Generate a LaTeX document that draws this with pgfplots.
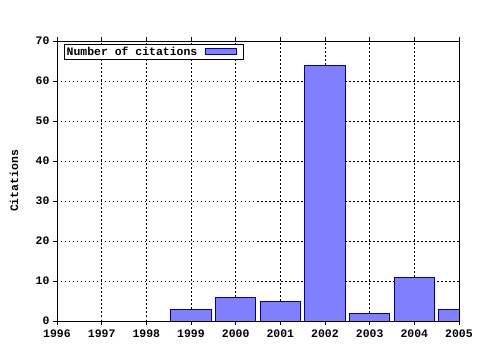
\documentclass[border=0pt]{standalone}
\usepackage{fontspec}
\setmainfont{Liberation Mono}
\usepackage{pgfplots}
\pgfplotsset{compat=1.18}
\definecolor{barfill}{RGB}{128,128,255}
\definecolor{baredge}{RGB}{0,0,150}
\begin{document}
\begin{tikzpicture}[font=\bfseries\fontsize{11.5}{13}\selectfont]
\begin{axis}[
  at={(0,0)}, anchor=south west,
  scale only axis, width=402bp, height=280bp,
  xmin=1996, xmax=2005, ymin=0, ymax=70,
  xtick={1996,...,2005}, ytick={0,10,...,70},
  minor x tick num=3,
  ytick pos=left,
  tick align=outside,
  major tick length=4bp, minor tick length=2.5bp,
  /pgf/number format/assume math mode=true,
  x tick label style={/pgf/number format/1000 sep={}},
  xticklabel style={yshift=-1bp},
  grid=major,
  major grid style={black, line width=0.6bp, dash pattern=on 1.5bp off 2.5bp},
  axis line style={black, line width=0.8bp},
  tick style={black, line width=0.8bp},
  ylabel={Citations},
  every axis y label/.style={at={(axis description cs:-0.107,0.5)}, rotate=90, anchor=center},
  ybar, bar width=0.9,
  clip=true,
  legend style={at={(rel axis cs:0.017,0.99)}, anchor=north west, draw=black, line width=0.8bp, inner sep=0.5bp, row sep=0pt, font=\bfseries\fontsize{11.5}{13}\selectfont},
  legend plot pos=right,
  legend image code/.code={\path (0bp,0bp) (43bp,0bp); \draw[#1] (6bp,-3bp) rectangle (37bp,3bp);},
]
\addplot[fill=barfill, draw=baredge, line width=0.9bp] coordinates {
(1999,3) (2000,6) (2001,5) (2002,64) (2003,2) (2004,11) (2005,3)};
\addlegendentry{Number of citations}
\end{axis}
\useasboundingbox (-57bp,-29bp) rectangle (423bp,321bp);
\end{tikzpicture}
\end{document}
